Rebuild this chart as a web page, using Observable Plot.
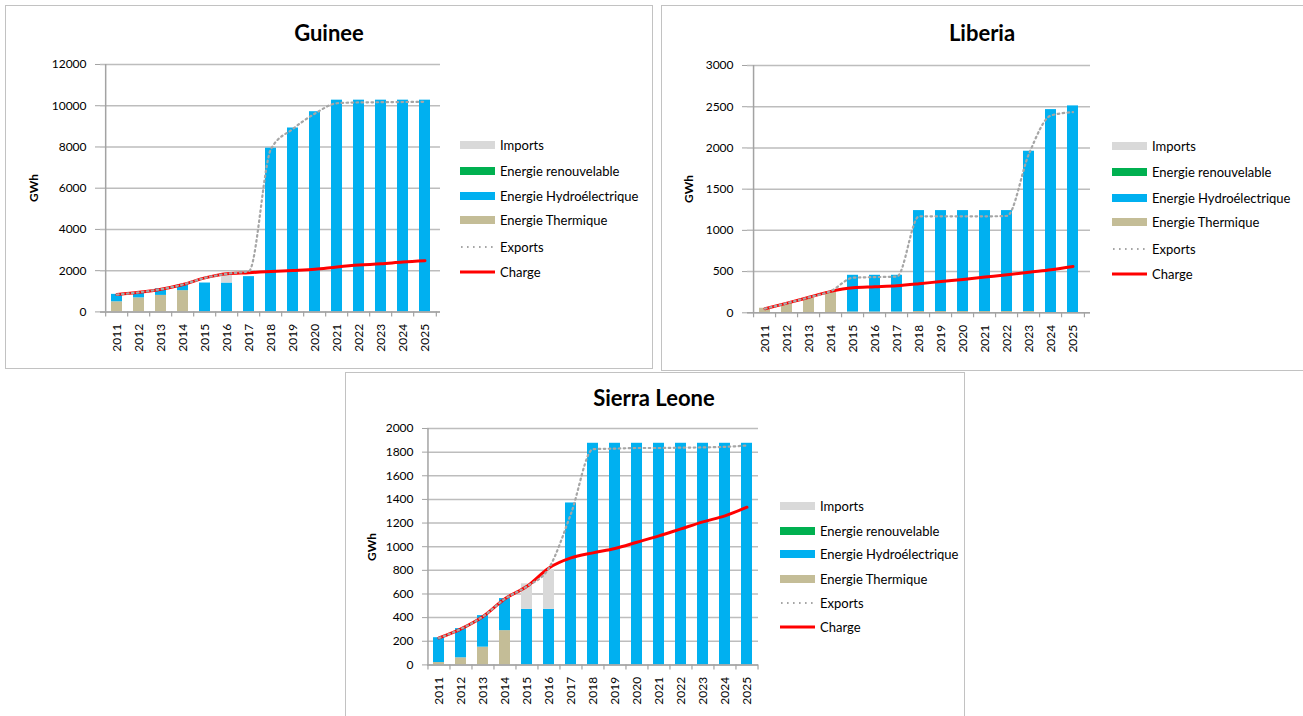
<!DOCTYPE html>
<html><head><meta charset="utf-8">
<script src="https://cdn.jsdelivr.net/npm/d3@7"></script>
<script src="https://cdn.jsdelivr.net/npm/@observablehq/plot@0.6"></script>
<style>
body{margin:0;background:#fff;font-family:Lato,"Open Sans",sans-serif;color:#000;}
#root{position:relative;width:1303px;height:716px;overflow:hidden;background:#fff;}
.box{position:absolute;border:1.5px solid #c2c2c2;box-sizing:border-box;}
.title{position:absolute;font-weight:bold;font-size:22px;transform:translate(-50%,-50%);white-space:nowrap;}
.ylab{position:absolute;font-weight:bold;font-size:12px;transform:translate(-50%,-50%) rotate(-90deg);white-space:nowrap;}
.row{position:absolute;display:flex;align-items:center;white-space:nowrap;font-size:13px;height:16px;}
.chart{position:absolute;}
.chart svg{overflow:visible;}
</style></head><body><div id="root"></div><script>
// ---- data ----
const years = ["2011","2012","2013","2014","2015","2016","2017","2018","2019","2020","2021","2022","2023","2024","2025"];
const stackSeries = ["Energie Thermique","Energie Hydroélectrique","Energie renouvelable","Imports"];
const stackColors = ["#c4bd97","#00b0f0","#00b050","#d9d9d9"];
const legendLabels = ["Imports","Energie renouvelable","Energie Hydroélectrique","Energie Thermique","Exports","Charge"];

// Guinee
const guineeTicks = [0,2000,4000,6000,8000,10000,12000];
const guineeThermique = [490,680,800,1030,0,0,0,0,0,0,0,0,0,0,0];
const guineeHydro = [360,260,320,290,1400,1400,1710,7940,8920,9710,10270,10270,10270,10270,10270];
const guineeRenouv = [0,0,0,0,0,0,0,0,0,0,0,0,0,0,0];
const guineeImports = [0,0,0,0,0,480,0,0,0,0,0,0,0,0,0];
const guineeCharge = [840,950,1100,1330,1650,1850,1900,1960,2010,2070,2180,2270,2330,2420,2480];
const guineeExports = [840,950,1100,1330,1650,1850,1980,7900,8880,9620,10120,10160,10170,10180,10190];

// Liberia
const liberiaTicks = [0,500,1000,1500,2000,2500,3000];
const liberiaThermique = [55,112,176,255,10,10,10,15,15,15,15,15,15,0,0];
const liberiaHydro = [0,0,0,0,445,445,445,1225,1225,1225,1225,1225,1945,2465,2510];
const liberiaRenouv = [0,0,0,0,0,0,0,0,0,0,0,0,0,0,0];
const liberiaImports = [0,0,0,0,0,0,0,0,0,0,0,0,0,0,0];
const liberiaCharge = [50,117,188,260,303,315,328,352,380,404,433,461,493,522,562];
const liberiaExports = [50,117,188,265,425,433,440,1170,1170,1170,1170,1175,1930,2394,2434];

// Sierra Leone
const sierraTicks = [0,200,400,600,800,1000,1200,1400,1600,1800,2000];
const sierraThermique = [20,60,150,290,0,0,0,0,0,0,0,0,0,0,0];
const sierraHydro = [210,247,267,271,470,470,1370,1875,1875,1875,1875,1875,1875,1875,1875];
const sierraRenouv = [0,0,0,0,0,0,0,0,0,0,0,0,0,0,0];
const sierraImports = [0,0,0,0,216,330,0,0,0,0,0,0,0,0,0];
const sierraCharge = [228,305,410,560,665,820,905,948,985,1038,1092,1151,1210,1261,1334];
const sierraExports = [228,305,410,560,665,820,1280,1825,1830,1835,1835,1838,1840,1845,1856];

// ---- layout ----
const root = document.getElementById("root");
function addBox(l,t,w,h){const d=document.createElement("div");d.className="box";Object.assign(d.style,{left:l+"px",top:t+"px",width:w+"px",height:h+"px"});root.appendChild(d);}
addBox(5,5,648,364);
addBox(661,5,660,366);
addBox(345,372,620,360);

function makePanel(p){
  const mL=92,mR=10,mT=30,mB=55;
  const W=(p.x1-p.x0)+mL+mR, H=(p.y1-p.y0)+mT+mB;
  const step=(p.x1-p.x0)/years.length;
  const long=[];
  stackSeries.forEach((s,k)=>years.forEach((yr,i)=>long.push({year:yr,series:s,value:p.stack[k][i]})));
  const charge=years.map((yr,i)=>({year:yr,value:p.charge[i]}));
  const exportsD=years.map((yr,i)=>({year:yr,value:p.exports[i]}));
  const axisC="#a3a3a3";
  const yMax=p.ticks[p.ticks.length-1];
  const chart=Plot.plot({
    width:W,height:H,marginLeft:mL,marginRight:mR,marginTop:mT,marginBottom:mB,
    style:{fontFamily:"Lato, 'Open Sans', sans-serif",fontSize:"12px",color:"#000",background:"transparent",overflow:"visible"},
    x:{type:"band",domain:years,paddingInner:0.5,paddingOuter:0.25,align:0.5},
    y:{domain:[0,yMax]},
    color:{domain:stackSeries,range:stackColors},
    marks:[
      Plot.gridY(p.ticks,{stroke:"#bdbdbd",strokeOpacity:1,strokeWidth:1.5}),
      Plot.barY(long,{x:"year",y:"value",fill:"series",order:stackSeries}),
      Plot.line(charge,{x:"year",y:"value",stroke:"#ff0000",strokeWidth:3,curve:"monotone-x"}),
      Plot.line(exportsD,{x:"year",y:"value",stroke:"#a6a6a6",strokeWidth:2.2,strokeDasharray:"1.6,3.4",curve:"monotone-x"}),
      Plot.ruleY([0],{stroke:axisC,strokeWidth:1.5}),
      Plot.ruleX([years[0]],{x:d=>d,dx:-step/2,y1:0,y2:yMax,stroke:axisC,strokeWidth:1.5}),
      Plot.ruleX(years,{x:d=>d,dx:-step/2,y1:0,y2:0,insetBottom:-5,stroke:axisC,strokeWidth:1.2}),
      Plot.ruleX([years[years.length-1]],{x:d=>d,dx:step/2,y1:0,y2:0,insetBottom:-5,stroke:axisC,strokeWidth:1.2}),
      Plot.axisY({ticks:p.ticks,tickSize:5,tickPadding:9,label:null,stroke:axisC,fill:"#000",tickFormat:d=>String(d)}),
      Plot.axisX({tickSize:0,tickPadding:12,tickRotate:-90,label:null,fill:"#000",fontSize:12})
    ]
  });
  const wrap=document.createElement("div");wrap.className="chart";
  wrap.style.left=(p.x0-mL)+"px";wrap.style.top=(p.y0-mT)+"px";
  wrap.appendChild(chart);root.appendChild(wrap);

  const t=document.createElement("div");t.className="title";t.textContent=p.title;
  t.style.left=p.titleX+"px";t.style.top=p.titleY+"px";root.appendChild(t);
  const yl=document.createElement("div");yl.className="ylab";yl.textContent="GWh";
  yl.style.left=p.ylabX+"px";yl.style.top=((p.y0+p.y1)/2)+"px";root.appendChild(yl);

  const swCols={"Imports":"#d9d9d9","Energie renouvelable":"#00b050","Energie Hydroélectrique":"#00b0f0","Energie Thermique":"#c4bd97"};
  legendLabels.forEach((lab,i)=>{
    const r=document.createElement("div");r.className="row";
    r.style.left=p.legX+"px";r.style.top=(p.legY[i]-8)+"px";
    let sw;
    if(lab==="Exports"){
      sw=`<svg width="35" height="8" style="margin-right:5px"><line x1="1" y1="4" x2="35" y2="4" stroke="#a6a6a6" stroke-width="2.2" stroke-dasharray="1.6,4.4"/></svg>`;
    } else if(lab==="Charge"){
      sw=`<svg width="35" height="8" style="margin-right:5px"><line x1="0" y1="4" x2="35" y2="4" stroke="#ff0000" stroke-width="3"/></svg>`;
    } else {
      sw=`<div style="width:35px;height:8px;background:${swCols[lab]};margin-right:5px"></div>`;
    }
    r.innerHTML=sw+`<span>${lab}</span>`;
    root.appendChild(r);
  });
}

makePanel({title:"Guinee",x0:99.5,x1:439.5,y0:64.3,y1:311.7,ticks:guineeTicks,
  stack:[guineeThermique,guineeHydro,guineeRenouv,guineeImports],charge:guineeCharge,exports:guineeExports,
  titleX:329,titleY:32,ylabX:33,legX:460,legY:[145,171,196,220,247,272]});
makePanel({title:"Liberia",x0:747,x1:1090,y0:65,y1:312.3,ticks:liberiaTicks,
  stack:[liberiaThermique,liberiaHydro,liberiaRenouv,liberiaImports],charge:liberiaCharge,exports:liberiaExports,
  titleX:982,titleY:32,ylabX:688,legX:1112,legY:[146,172,198,222,249,274]});
makePanel({title:"Sierra Leone",x0:427,x1:758,y0:428.3,y1:664.7,ticks:sierraTicks,
  stack:[sierraThermique,sierraHydro,sierraRenouv,sierraImports],charge:sierraCharge,exports:sierraExports,
  titleX:654,titleY:397,ylabX:371,legX:780,legY:[506,531,554,579,603,627]});
</script></body></html>
